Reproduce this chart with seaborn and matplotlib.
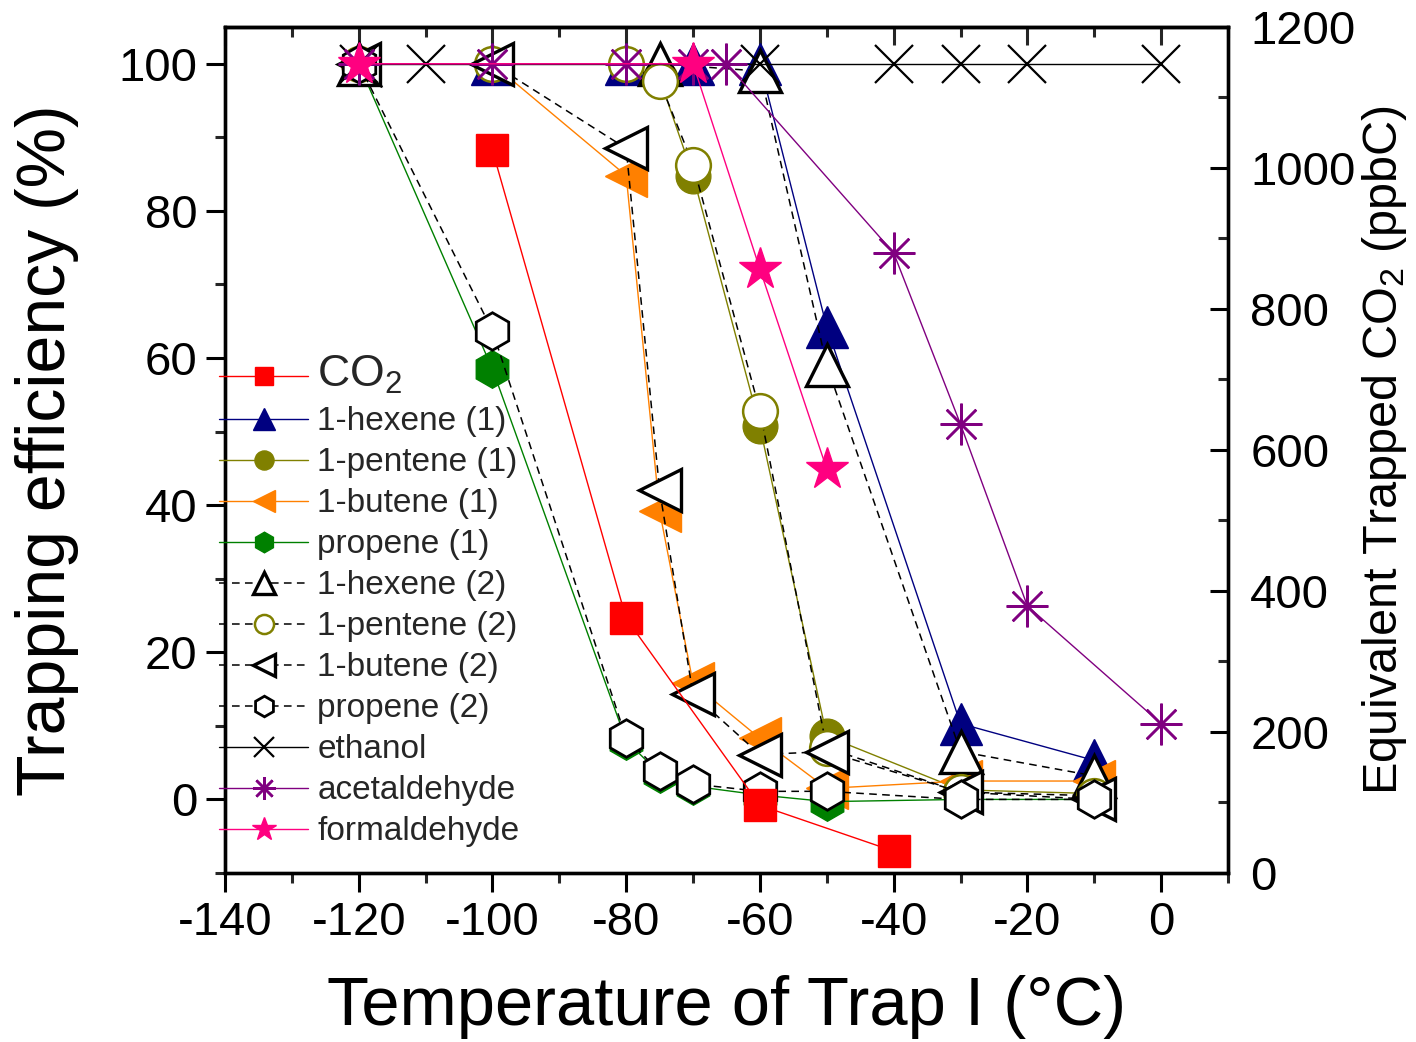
import matplotlib
matplotlib.use("Agg")
import matplotlib.pyplot as plt
import seaborn as sns
import numpy as np
from matplotlib.ticker import MultipleLocator

sns.set_theme(style="white")
plt.rcParams['font.family'] = ['Liberation Sans', 'DejaVu Sans']
plt.rcParams['mathtext.fontset'] = 'custom'
plt.rcParams['mathtext.rm'] = 'Liberation Sans'
plt.rcParams['mathtext.default'] = 'regular'
plt.rcParams['axes.unicode_minus'] = False

# ---- data ----
co2_T = [-100, -80, -60, -40]
co2_ppbC = [1025, 361, 96, 31]

hex1_T = [-120, -100, -80, -70, -60, -50, -30, -10]
hex1_E = [100, 100, 100, 100, 100, 64.2, 10.3, 5.3]

pen1_T = [-120, -100, -80, -75, -70, -60, -50, -30, -10]
pen1_E = [100, 100, 100, 98, 84.8, 50.7, 8.6, 1.3, 0.8]

but1_T = [-120, -100, -80, -75, -70, -60, -50, -30, -10]
but1_E = [100, 100, 84.8, 39.2, 15.8, 8.3, 1.5, 2.5, 2.5]

pro1_T = [-120, -100, -80, -75, -70, -60, -50, -30, -10]
pro1_E = [100, 58.5, 8.0, 3.5, 1.8, 0.6, -0.3, 0, 0]

hex2_T = [-120, -75, -60, -50, -30, -10]
hex2_E = [100, 100, 99, 59, 6.5, 3.2]

pen2_T = [-120, -100, -80, -75, -70, -60, -50, -30, -10]
pen2_E = [100, 100, 100, 97.6, 86.3, 52.8, 7.0, 1.0, 0.5]

but2_T = [-120, -100, -80, -75, -70, -60, -50, -30, -10]
but2_E = [100, 100, 88.5, 42, 14.3, 6.1, 6.5, 1.0, 0.0]

pro2_T = [-120, -100, -80, -75, -70, -60, -50, -30, -10]
pro2_E = [100, 63.7, 8.3, 3.8, 2.1, 1.1, 1.1, 0, 0]

eth_T = [-120, -110, -60, -40, -30, -20, 0]
eth_E = [100, 100, 100, 100, 100, 100, 100]

ace_T = [-120, -100, -80, -70, -65, -40, -30, -20, 0]
ace_E = [100, 100, 100, 100, 100, 74.3, 51.0, 26.3, 10.3]

form_T = [-120, -70, -60, -50]
form_E = [100, 100, 72.1, 44.9]

labels = ["CO$_2$", "1-hexene (1)", "1-pentene (1)", "1-butene (1)", "propene (1)",
          "1-hexene (2)", "1-pentene (2)", "1-butene (2)", "propene (2)",
          "ethanol", "acetaldehyde", "formaldehyde"]

fig = plt.figure(figsize=(14.16, 10.42), dpi=100)
ax = fig.add_axes([0.1589, 0.1622, 0.7083, 0.8119])
ax2 = ax.twinx()

dash = (0, (5, 3.5))

def draw(axis, x, y, color, marker, ms, mfc, mec, mew, ls, lw, label):
    sns.lineplot(x=x, y=y, ax=axis, color=color, marker=marker, markersize=ms,
                 markerfacecolor=mfc, markeredgecolor=mec, markeredgewidth=mew,
                 linestyle=ls, linewidth=lw, label=label, legend=False)
    return axis.get_lines()[-1]

handles = {}
handles[1] = draw(ax, hex1_T, hex1_E, '#000080', '^', 30, '#000080', '#000080', 1, '-', 1.0, labels[1])
handles[2] = draw(ax, pen1_T, pen1_E, '#808000', 'o', 25, '#808000', '#808000', 1, '-', 1.0, labels[2])
handles[3] = draw(ax, but1_T, but1_E, '#FF8000', '<', 30, '#FF8000', '#FF8000', 1, '-', 1.0, labels[3])
handles[4] = draw(ax, pro1_T, pro1_E, '#008000', 'h', 27, '#008000', '#008000', 1, '-', 1.0, labels[4])
handles[5] = draw(ax, hex2_T, hex2_E, 'black', '^', 30, 'white', 'black', 2.4, dash, 1.1, labels[5])
handles[6] = draw(ax, pen2_T, pen2_E, 'black', 'o', 25, 'white', '#808000', 1.8, dash, 1.1, labels[6])
handles[7] = draw(ax, but2_T, but2_E, 'black', '<', 30, 'white', 'black', 2.4, dash, 1.1, labels[7])
handles[8] = draw(ax, pro2_T, pro2_E, 'black', 'h', 27, 'white', 'black', 2.0, dash, 1.1, labels[8])
handles[9] = draw(ax, eth_T, eth_E, 'black', 'x', 27, 'black', 'black', 1.6, '-', 1.0, labels[9])
handles[10] = draw(ax, ace_T, ace_E, '#800080', (8, 2, 0), 30, '#800080', '#800080', 1.8, '-', 1.0, labels[10])
handles[11] = draw(ax, form_T, form_E, '#FF0080', '*', 32, '#FF0080', '#FF0080', 1, '-', 1.0, labels[11])
handles[0] = draw(ax2, co2_T, co2_ppbC, '#FF0000', 's', 23, '#FF0000', '#FF0000', 1, '-', 1.0, labels[0])

ax.set_xlim(-140, 10)
ax.set_ylim(-10, 105)
ax2.set_ylim(0, 1200)

ax.set_xticks(np.arange(-140, 1, 20))
ax.xaxis.set_minor_locator(MultipleLocator(10))
ax.set_yticks(np.arange(0, 101, 20))
ax.yaxis.set_minor_locator(MultipleLocator(10))
ax2.set_yticks(np.arange(0, 1201, 200))
ax2.yaxis.set_minor_locator(MultipleLocator(100))

for a in (ax, ax2):
    for s in a.spines.values():
        s.set_linewidth(2.4)
        s.set_color('black')

ax.tick_params(axis='x', which='major', direction='out', length=14, width=2.2,
               labelsize=34, pad=6, bottom=True, top=False, colors='black')
ax.tick_params(axis='x', which='minor', direction='out', length=7.5, width=2.2, bottom=True, top=False)
ax.tick_params(axis='y', which='major', direction='out', length=14, width=2.2,
               labelsize=34, pad=6, left=True, right=False, colors='black')
ax.tick_params(axis='y', which='minor', direction='out', length=7.5, width=2.2, left=True, right=False)
ax2.tick_params(axis='y', which='major', direction='in', length=13, width=2.2,
                labelsize=34, pad=16, right=True, left=False, colors='black')
ax2.tick_params(axis='y', which='minor', direction='in', length=7.5, width=2.2, right=True, left=False)

secx = ax.secondary_xaxis('top')
secx.set_xticks(np.arange(-140, 1, 20))
secx.xaxis.set_minor_locator(MultipleLocator(10))
secx.tick_params(axis='x', which='major', direction='in', length=13, width=2.2, labeltop=False)
secx.tick_params(axis='x', which='minor', direction='in', length=7.5, width=2.2)
secx.spines['top'].set_linewidth(2.4)

ax.set_xlabel("Temperature of Trap I (°C)", fontsize=49.5, labelpad=22, color='black')
ax.set_ylabel("Trapping efficiency (%)", fontsize=49, labelpad=28, color='black')
ax2.set_ylabel("Equivalent Trapped CO$_2$ (ppbC)", fontsize=35, labelpad=3, color='black')

order = list(range(12))
leg = ax2.legend([handles[i] for i in order], [labels[i] for i in order],
                 loc='upper left', bbox_to_anchor=(0.155, 0.660),
                 bbox_transform=fig.transFigure, frameon=False, fontsize=24,
                 markerscale=0.55, handlelength=2.65, handletextpad=0.28,
                 labelspacing=0.30, borderpad=0, borderaxespad=0)
leg.get_texts()[0].set_fontsize(32)

fig.savefig("out.png", dpi=100)
